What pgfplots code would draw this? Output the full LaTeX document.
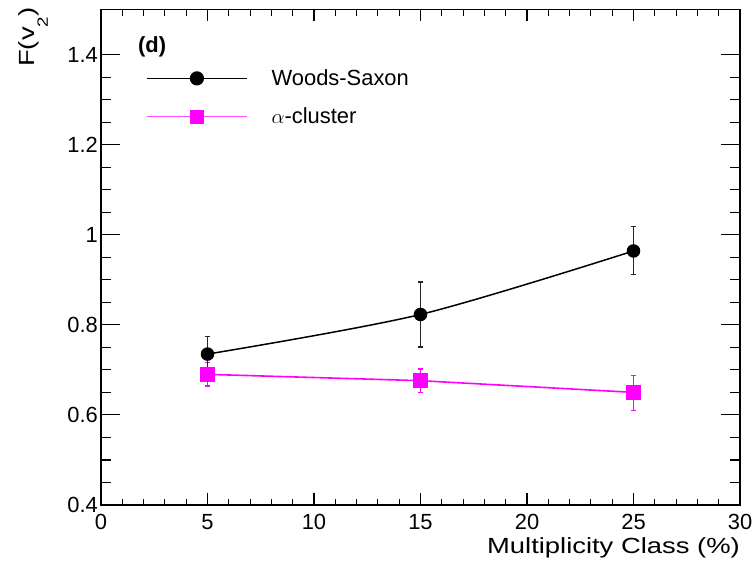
\documentclass[border=0pt]{standalone}
\usepackage{fontspec}
\setmainfont{Liberation Sans}
\usepackage{graphicx}
\usepackage{pgfplots}
\pgfplotsset{compat=1.18}
\definecolor{rootmag}{RGB}{255,0,255}
\newcommand{\fs}{\fontsize{22}{24}\selectfont}
\pgfplotstableread{
x y ep em
5 0.735 0.039 0.037
15 0.823 0.072 0.072
25 0.964 0.054 0.053
}\ws
\pgfplotstableread{
x y ep em
5 0.690 0.027 0.026
15 0.676 0.026 0.026
25 0.650 0.037 0.040
}\ac
\pgfplotsset{rootbase/.style={
  scale only axis, width=639bp, height=495.5bp,
  xmin=0, xmax=30, ymin=0.4, ymax=1.5,
  tick align=inside,
  every tick/.style={black, line width=1.1bp},
  /pgf/number format/assume math mode=true,
  tick label style={font=\fs},
}}
\begin{document}
\begin{tikzpicture}
% y ticks and labels (longer tick length)
\begin{axis}[rootbase,
  xtick=\empty,
  ytick={0.4,0.6,0.8,1,1.2,1.4}, minor y tick num=3,
  yticklabel style={inner sep=0pt, xshift=-3bp},
  major tick length=19bp, minor tick length=10bp,
  axis line style={draw=none},
]
\end{axis}
\begin{axis}[rootbase,
  xtick={0,5,10,15,20,25,30}, minor x tick num=4,
  ytick=\empty,
  major tick length=12bp, minor tick length=6.5bp,
  axis line style={line width=1.4bp},
  xticklabel style={inner sep=0pt, yshift=-9bp},
  xlabel={\scalebox{1.25}[1]{Multiplicity Class (\%)}},
  xlabel style={font=\fs, at={(rel axis cs:1,0)}, anchor=base east, inner sep=0pt, yshift=-48bp},
  ylabel={\scalebox{1.25}[1]{F(v\raisebox{-13bp}{\fontsize{15}{15}\selectfont 2})}},
  ylabel style={font=\fs, at={([xshift=-66bp, yshift=2bp]rel axis cs:0,1)}, anchor=base east, inner sep=0pt},
  legend style={draw=none, fill=none, font=\fs, at={(rel axis cs:0,1)}, anchor=north west,
    xshift=45bp, yshift=-58bp, inner sep=0pt, row sep=17bp,
    /tikz/every odd column/.append style={column sep=22bp}},
  legend cell align=left,
  legend image code/.code={\draw[mark repeat=2,mark phase=2] plot coordinates {(0bp,0bp)(50bp,0bp)(100bp,0bp)};},
]
\addlegendimage{black, line width=1.2bp, mark=*, mark size=6.5bp, mark options={solid, fill=black}}
\addlegendentry{Woods-Saxon}
\addlegendimage{rootmag!70, line width=1.4bp, mark=square*, mark size=6.5bp, mark options={solid, fill=rootmag, draw=rootmag}}
\addlegendentry{$\alpha$-cluster}

\addplot[forget plot, rootmag, line width=1.6bp, mark=square*, mark size=6.5bp, mark options={solid, fill=rootmag},
  error bars/.cd, y dir=both, y explicit, error bar style={line width=1.5bp, rootmag},
  error mark options={rotate=90, mark size=2.5bp, line width=1.3bp}]
  table[x=x, y=y, y error plus=ep, y error minus=em] {\ac};
\addplot[forget plot, black, line width=1.5bp, smooth, mark=*, mark size=6bp, mark options={solid, fill=black},
  error bars/.cd, y dir=both, y explicit, error bar style={line width=1.6bp, black!85},
  error mark options={rotate=90, mark size=2.5bp, line width=1.3bp}]
  table[x=x, y=y, y error plus=ep, y error minus=em] {\ws};

\node[anchor=base west, font=\fs\bfseries, inner sep=0pt] at ([xshift=37bp, yshift=-43bp]rel axis cs:0,1) {(d)};
\coordinate (sw) at (rel axis cs:0,0);
\coordinate (ne) at (rel axis cs:1,1);
\end{axis}
\pgfresetboundingbox
\path ([xshift=-101bp, yshift=-58bp]sw) rectangle ([xshift=12bp, yshift=9.5bp]ne);
\end{tikzpicture}
\end{document}
